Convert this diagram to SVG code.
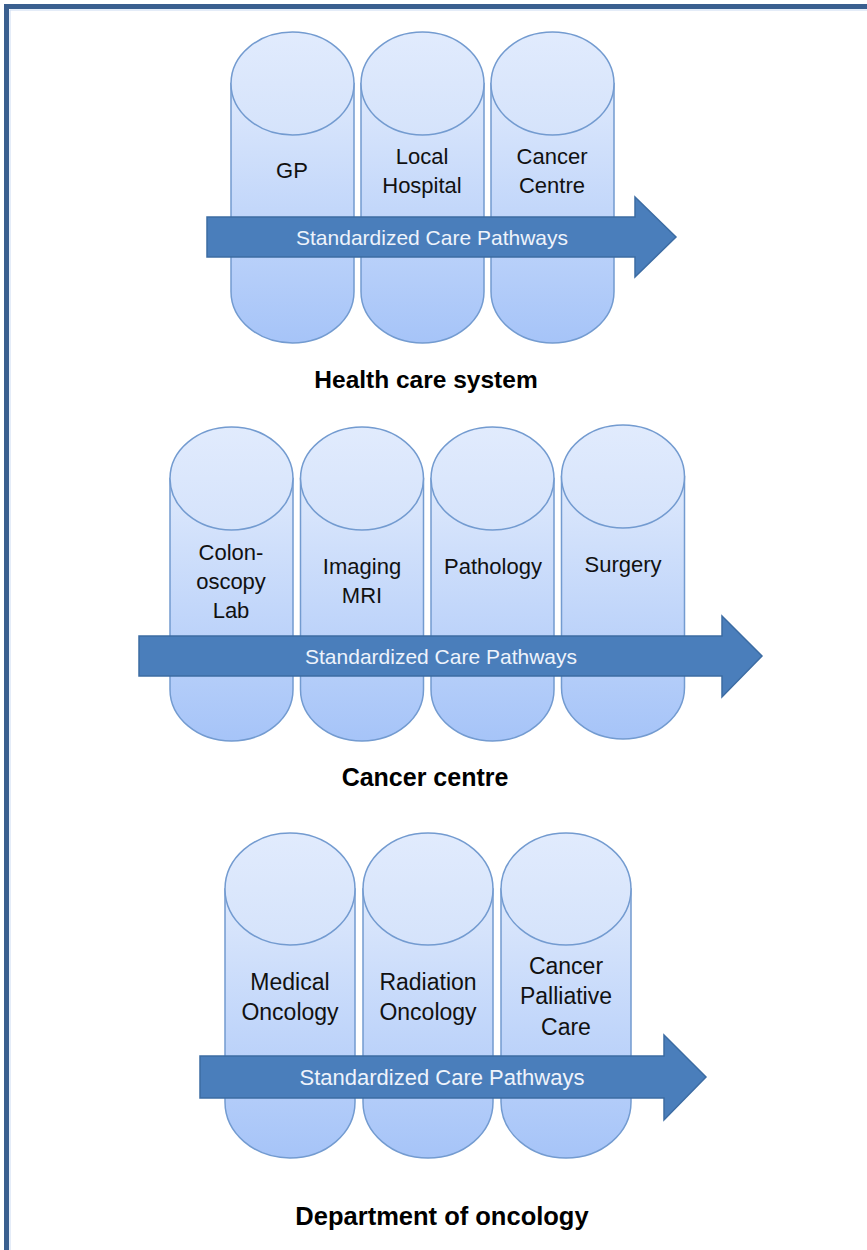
<svg xmlns="http://www.w3.org/2000/svg" width="867" height="1250" viewBox="0 0 867 1250">
<defs>
<linearGradient id="cyl" x1="0" y1="0" x2="0" y2="1">
<stop offset="0" stop-color="#dee9fc"/>
<stop offset="1" stop-color="#a6c4f8"/>
</linearGradient>
<linearGradient id="top" x1="0" y1="0" x2="0" y2="1">
<stop offset="0" stop-color="#e1ebfd"/>
<stop offset="1" stop-color="#d5e3fb"/>
</linearGradient>
<style>
.body{fill:url(#cyl);stroke:#739bd0;stroke-width:1.5}
.cap{fill:url(#top);stroke:#739bd0;stroke-width:1.5}
.arrow{fill:#4a7ebb;stroke:#3c6ca3;stroke-width:1.5}
.lbl{font-family:"Liberation Sans",Arial,sans-serif;font-size:22px;fill:#111;text-anchor:middle}
.lbl3{font-family:"Liberation Sans",Arial,sans-serif;font-size:23px;fill:#111;text-anchor:middle}
.atxt{font-family:"Liberation Sans",Arial,sans-serif;font-size:21px;fill:#eef3fb;text-anchor:middle}
.title{font-family:"Liberation Sans",Arial,sans-serif;font-size:24.5px;font-weight:bold;fill:#000;text-anchor:middle}
</style>
</defs>
<rect width="867" height="1250" fill="#fff"/>
<path d="M6.5,1260 V6.5 H880" fill="none" stroke="#3a5f8f" stroke-width="5"/>
<path d="M10,1260 V10 H880" fill="none" stroke="#c9daf2" stroke-width="1"/>

<!-- Section 1 -->
<g id="gp">
<path class="body" d="M231,83.5 V291.5 A61.5,51.5 0 0 0 354,291.5 V83.5 Z"/>
<ellipse class="cap" cx="292.5" cy="83.5" rx="61.5" ry="51.5"/>
<text class="lbl" x="292" y="178">GP</text>
</g>
<g id="local-hospital">
<path class="body" d="M361,83.5 V291.5 A61.5,51.5 0 0 0 484,291.5 V83.5 Z"/>
<ellipse class="cap" cx="422.5" cy="83.5" rx="61.5" ry="51.5"/>
<text class="lbl" x="422" y="164">Local</text>
<text class="lbl" x="422" y="193">Hospital</text>
</g>
<g id="cancer-centre-1">
<path class="body" d="M491,83.5 V291.5 A61.5,51.5 0 0 0 614,291.5 V83.5 Z"/>
<ellipse class="cap" cx="552.5" cy="83.5" rx="61.5" ry="51.5"/>
<text class="lbl" x="552" y="164">Cancer</text>
<text class="lbl" x="552" y="193">Centre</text>
</g>
<text id="title-1" class="title" x="426" y="388">Health care system</text>

<!-- Section 2 -->
<g id="colonoscopy">
<path class="body" d="M170,478.5 V689.5 A61.5,51.5 0 0 0 293,689.5 V478.5 Z"/>
<ellipse class="cap" cx="231.5" cy="478.5" rx="61.5" ry="51.5"/>
<text class="lbl" x="231" y="560">Colon-</text>
<text class="lbl" x="231" y="589">oscopy</text>
<text class="lbl" x="231" y="618">Lab</text>
</g>
<g id="imaging">
<path class="body" d="M300.5,478.5 V689.5 A61.5,51.5 0 0 0 423.5,689.5 V478.5 Z"/>
<ellipse class="cap" cx="362" cy="478.5" rx="61.5" ry="51.5"/>
<text class="lbl" x="362" y="574">Imaging</text>
<text class="lbl" x="362" y="603">MRI</text>
</g>
<g id="pathology">
<path class="body" d="M431,478.5 V689.5 A61.5,51.5 0 0 0 554,689.5 V478.5 Z"/>
<ellipse class="cap" cx="492.5" cy="478.5" rx="61.5" ry="51.5"/>
<text class="lbl" x="493" y="574">Pathology</text>
</g>
<g id="surgery">
<path class="body" d="M561.5,476.5 V687.5 A61.5,51.5 0 0 0 684.5,687.5 V476.5 Z"/>
<ellipse class="cap" cx="623" cy="476.5" rx="61.5" ry="51.5"/>
<text class="lbl" x="623" y="572">Surgery</text>
</g>
<text id="title-2" class="title" x="425" y="786" style="font-size:25px">Cancer centre</text>

<!-- Section 3 -->
<g id="medical-oncology">
<path class="body" d="M225,889 V1102 A65,56 0 0 0 355,1102 V889 Z"/>
<ellipse class="cap" cx="290" cy="889" rx="65" ry="56"/>
<text class="lbl3" x="290" y="990">Medical</text>
<text class="lbl3" x="290" y="1020">Oncology</text>
</g>
<g id="radiation-oncology">
<path class="body" d="M363,889 V1102 A65,56 0 0 0 493,1102 V889 Z"/>
<ellipse class="cap" cx="428" cy="889" rx="65" ry="56"/>
<text class="lbl3" x="428" y="990">Radiation</text>
<text class="lbl3" x="428" y="1020">Oncology</text>
</g>
<g id="palliative-care">
<path class="body" d="M501,889 V1102 A65,56 0 0 0 631,1102 V889 Z"/>
<ellipse class="cap" cx="566" cy="889" rx="65" ry="56"/>
<text class="lbl3" x="566" y="974">Cancer</text>
<text class="lbl3" x="566" y="1004">Palliative</text>
<text class="lbl3" x="566" y="1035">Care</text>
</g>
<text id="title-3" class="title" x="442" y="1225" style="font-size:25.5px">Department of oncology</text>

<!-- Pathway arrows -->
<g id="connectors">
<path class="arrow" d="M207,217 H635 V197 L676,237 L635,277 V257 H207 Z"/>
<text class="atxt" x="432" y="245">Standardized Care Pathways</text>
<path class="arrow" d="M139,636 H722 V616 L762,656 L722,697 V676 H139 Z"/>
<text class="atxt" x="441" y="664">Standardized Care Pathways</text>
<path class="arrow" d="M200,1056 H664 V1035 L706,1077 L664,1120 V1098 H200 Z"/>
<text class="atxt" x="442" y="1085" style="font-size:22px">Standardized Care Pathways</text>
</g>
</svg>
